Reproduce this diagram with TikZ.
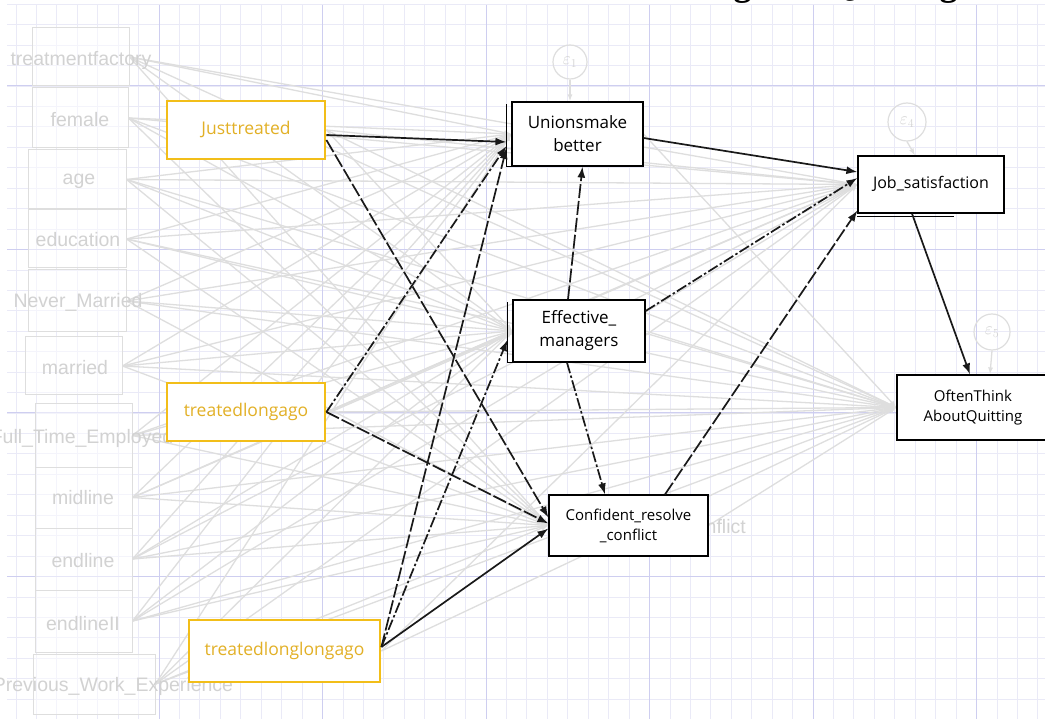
\documentclass[tikz,border=0pt]{standalone}
\usepackage{fontspec}
\setmainfont{Open Sans}
\newfontfamily\ghostfont{Liberation Sans}
\newfontfamily\titlefont{Liberation Serif}
\usetikzlibrary{arrows.meta}
\definecolor{gridminor}{RGB}{234,234,247}
\definecolor{gridmajor}{RGB}{206,206,240}
\definecolor{ghostgray}{RGB}{222,222,222}
\definecolor{ghosttext}{RGB}{210,210,210}
\definecolor{goldline}{RGB}{242,190,25}
\definecolor{goldtext}{RGB}{226,176,38}
\pgfdeclarelayer{gridlayer}
\pgfdeclarelayer{ghostlayer}
\pgfsetlayers{gridlayer,ghostlayer,main}
\tikzset{
  ghostbox/.style={draw=ghostgray, line width=1pt, fill=white, fill opacity=0.5, inner sep=0pt},
  ghostlabel/.style={text=ghosttext, font=\ghostfont\fontsize{19.5}{22}\selectfont, inner sep=0pt},
  goldbox/.style={draw=goldline, line width=2.8pt, fill=white, text=goldtext, font=\fontsize{17.5}{21}\selectfont, inner sep=0pt},
  varbox/.style={draw=black, line width=1.2pt, fill=white, text=black, align=center, inner sep=0pt},
  ghostline/.style={draw=ghostgray, line width=1.3pt, -{Latex[length=7pt,width=5pt]}},
  pathline/.style={draw=black!90, line width=1.7pt, -{Latex[length=11pt,width=8pt]}},
  dashlong/.style={dash pattern=on 14pt off 3pt},
  dashdotline/.style={dash pattern=on 11pt off 2.5pt on 2.5pt off 2.5pt},
  errcirc/.style={circle, draw=ghostgray, line width=1.2pt, minimum size=34pt, inner sep=0pt, text=ghosttext, font=\fontsize{17}{17}\selectfont},
  shadowedge/.style={draw=black, line width=1.2pt}
}
\begin{document}
\begin{tikzpicture}[x=1pt,y=-1pt]
\useasboundingbox (0,0) rectangle (1045,719);
\clip (0,0) rectangle (1045,719);

% title (cut off at the top edge)
\node[anchor=base west, inner sep=0pt, font=\titlefont\bfseries\fontsize{36}{40}\selectfont] (title) at (618,-4) {Training and Quitting};

% ghost exogenous boxes
\node[ghostbox, minimum width=97pt, minimum height=58pt] (tf) at (80.5,57) {};
\node[ghostbox, minimum width=96pt, minimum height=60pt] (fe) at (80,118) {};
\node[ghostbox, minimum width=98pt, minimum height=59pt] (ag) at (77,179.5) {};
\node[ghostbox, minimum width=98pt, minimum height=58pt] (ed) at (77,239) {};
\node[ghostbox, minimum width=98pt, minimum height=62pt] (nm) at (77,301) {};
\node[ghostbox, minimum width=97pt, minimum height=58pt] (ma) at (73.5,366) {};
\node[ghostbox, minimum width=97pt, minimum height=63pt] (ft) at (83.5,435.5) {};
\node[ghostbox, minimum width=97pt, minimum height=61pt] (mi) at (83.5,497.5) {};
\node[ghostbox, minimum width=97pt, minimum height=62pt] (en) at (83.5,559) {};
\node[ghostbox, minimum width=97pt, minimum height=62pt] (e2) at (83.5,621) {};
\node[ghostbox, minimum width=122pt, minimum height=60pt] (pw) at (94,684) {};

\node[ghostlabel] (tft) at (81,60) {treatmentfactory};
\node[ghostlabel] (fet) at (80,120) {female};
\node[ghostlabel] (agt) at (79,181) {age};
\node[ghostlabel] (edt) at (78,240) {education};
\node[ghostlabel] (nmt) at (78,302) {Never\_Married};
\node[ghostlabel] (mat) at (75,368) {married};
\node[ghostlabel] (ftt) at (82,438) {Full\_Time\_Employed};
\node[ghostlabel] (mit) at (83,498) {midline};
\node[ghostlabel] (ent) at (83,561) {endline};
\node[ghostlabel] (e2t) at (83,624) {endlineII};
\node[ghostlabel] (pwt) at (113,686) {Previous\_Work\_Experience};

% treatment nodes
\node[goldbox, minimum width=158pt, minimum height=58pt] (JT) at (246,130) {Justtreated};
\node[goldbox, minimum width=158pt, minimum height=58pt] (TL) at (246,412) {treatedlongago};
\node[goldbox, minimum width=191pt, minimum height=62pt] (TLL) at (284.5,651) {treatedlonglongago};

% endogenous nodes
\node[varbox, minimum width=131pt, minimum height=64pt, font=\fontsize{17}{23}\selectfont] (U) at (577.5,134) {Unionsmake\\better};
\node[varbox, minimum width=132pt, minimum height=62pt, font=\fontsize{17}{23}\selectfont] (E) at (579,331) {Effective\_\\managers};
\node[varbox, minimum width=159pt, minimum height=61pt, font=\fontsize{15}{20}\selectfont] (C) at (628.5,525.5) {Confident\_resolve\\\_conflict};
\node[varbox, minimum width=146pt, minimum height=57pt, font=\fontsize{16}{20}\selectfont] (J) at (931,184.5) {\raisebox{5pt}{Job\_satisfaction}};
\node[varbox, minimum width=152pt, minimum height=65pt, font=\fontsize{15}{20}\selectfont] (O) at (973,407.5) {OftenThink\\AboutQuitting};

% double edges
\draw[shadowedge] ([xshift=-5pt,yshift=-3pt]U.north west) -- ([xshift=-5pt]U.south west) -- (U.south west);
\draw[shadowedge] ([xshift=-5pt,yshift=-3pt]E.north west) -- ([xshift=-5pt]E.south west) -- (E.south west);
\draw[shadowedge] ([yshift=-3pt]J.south west) -- ([xshift=97pt,yshift=-3pt]J.south west);

% ghost layer: grey paths, ghost label fragment, error terms
\begin{pgfonlayer}{ghostlayer}
\begin{scope}
\clip (0,0) rectangle (1045,719);
\foreach \s in {tf,fe,ag,ed,nm,ma,ft,mi,en,e2,pw} {
  \foreach \t in {U,E,C,J,O} {
    \draw[ghostline] (\s.east) -- (\t.west);
  }
}
\foreach \s/\t in {JT/E,JT/J,JT/O,TL/E,TL/J,TL/O,TLL/J,TLL/O,U/O,E/O,C/O} {
  \draw[ghostline] (\s.east) -- (\t.west);
}
\node[ghostlabel, anchor=east] (Cg) at (746,527) {nflict};
\node[errcirc] (e1) at (570,62) {$\varepsilon_1$};
\node[errcirc, minimum size=38pt] (e4) at (907,122) {$\varepsilon_4$};
\node[errcirc, minimum size=36pt] (e5) at (992,332) {$\varepsilon_5$};
\draw[ghostline] (e1.south) -- (e1.south |- U.north);
\draw[ghostline] (e4.south) -- ([xshift=-16pt]J.north);
\draw[ghostline] (e5.south) -- ([xshift=17pt]O.north);
\end{scope}
\end{pgfonlayer}

% background and grid
\begin{pgfonlayer}{gridlayer}
\fill[white] (0,0) rectangle (1045,719);
\begin{scope}
\clip (7,5) rectangle (1045,719);
\foreach \i in {-8,...,46} {
  \draw[gridminor, line width=0.8pt] ({159+\i*20.4375},5) -- ({159+\i*20.4375},719);
}
\foreach \j in {-4,...,31} {
  \draw[gridminor, line width=0.8pt] (7,{86+\j*20.4375}) -- (1045,{86+\j*20.4375});
}
\foreach \i in {-1,...,6} {
  \draw[gridmajor, line width=1pt] ({159+\i*163.5},5) -- ({159+\i*163.5},719);
}
\foreach \j in {-1,...,4} {
  \draw[gridmajor, line width=1pt] (7,{86+\j*163.5}) -- (1045,{86+\j*163.5});
}
\end{scope}
\end{pgfonlayer}

% significant paths
\draw[pathline] ([yshift=-5pt]JT.east) -- ([xshift=-5pt,yshift=-8pt]U.west);
\draw[pathline,dashlong] ([yshift=-10pt]JT.east) -- ([yshift=8pt]C.west);
\draw[pathline,dashdotline] (TL.east) -- ([xshift=-5pt,yshift=-12pt]U.west);
\draw[pathline,dashlong] (TL.east) -- ([yshift=2pt]C.west);
\draw[pathline,dashlong] ([yshift=4pt]TLL.east) -- ([xshift=-5pt,yshift=-14pt]U.west);
\draw[pathline,dashdotline] ([yshift=4pt]TLL.east) -- ([xshift=-5pt,yshift=-9pt]E.west);
\draw[pathline] ([yshift=4pt]TLL.east) -- ([yshift=-3pt]C.west);
\draw[pathline,dashlong] ([xshift=-11pt]E.north) -- ([xshift=5pt]U.south);
\draw[pathline,dashdotline] ([yshift=20pt]E.east) -- ([yshift=6.5pt]J.west);
\draw[pathline,dashdotline] ([xshift=-12pt]E.south) -- ([xshift=-23.5pt]C.north);
\draw[pathline,dashlong] ([xshift=36.5pt]C.north) -- ([yshift=-26pt]J.west);
\draw[pathline] ([yshift=-4pt]U.east) -- ([yshift=12.5pt]J.west);
\draw[pathline] ([xshift=-19pt]J.south) -- ([xshift=-3pt]O.north);
\end{tikzpicture}
\end{document}
